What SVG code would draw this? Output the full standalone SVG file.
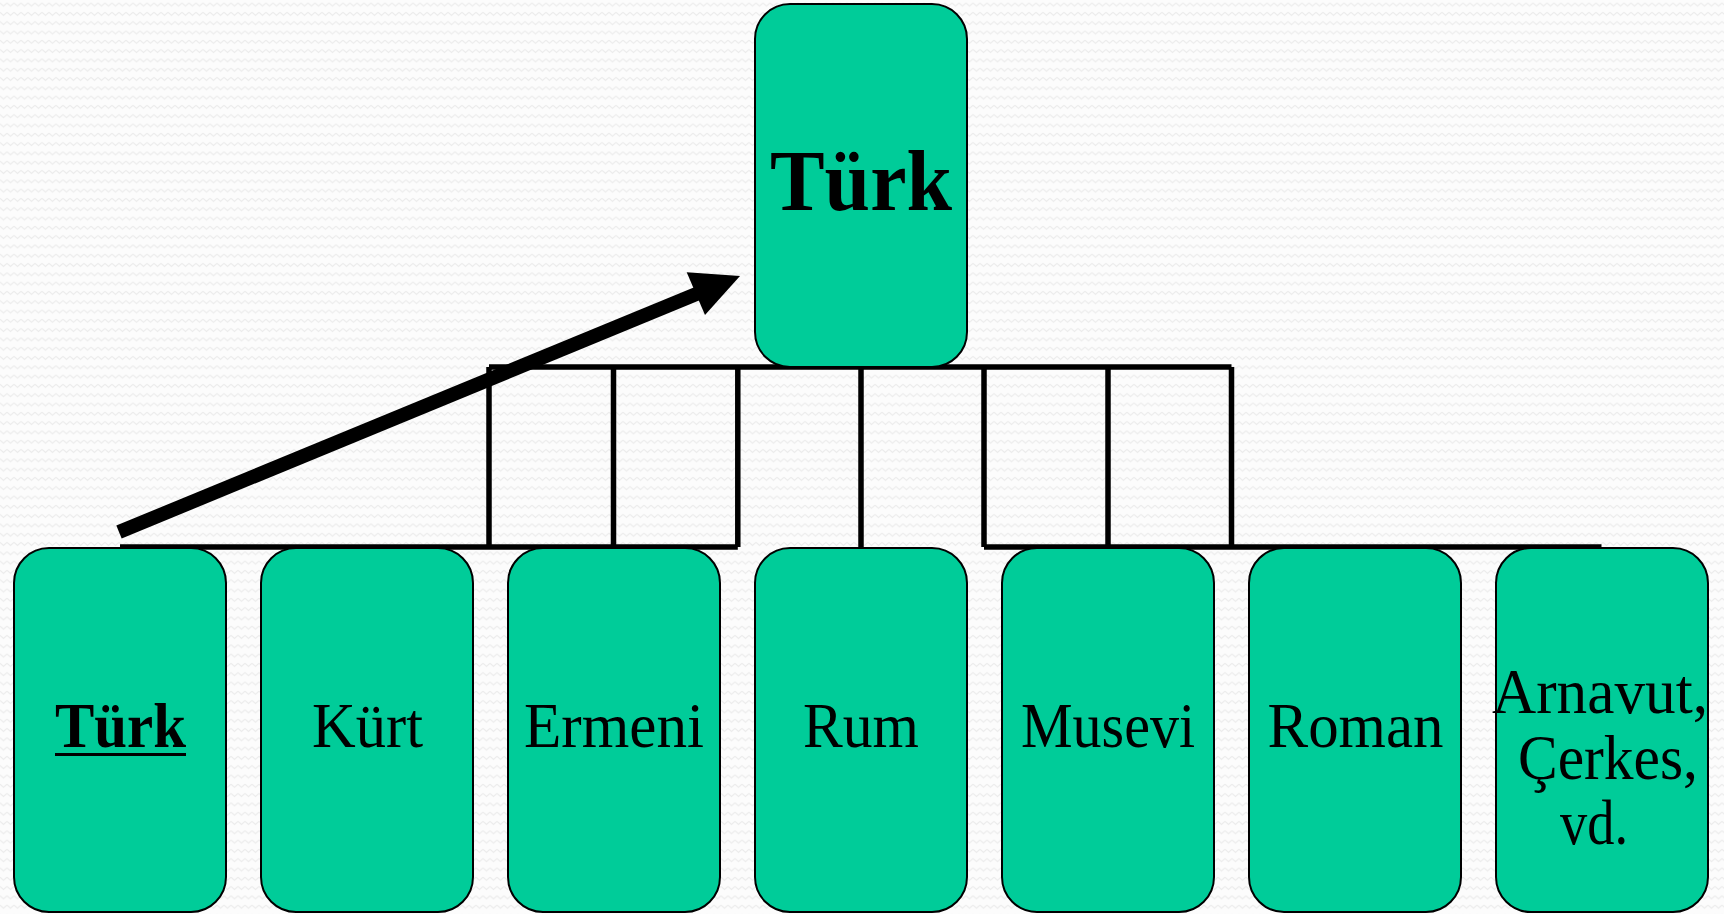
<svg xmlns="http://www.w3.org/2000/svg" width="1724" height="914" viewBox="0 0 1724 914">
<style>
.box{fill:#00cc99;stroke:#000;stroke-width:2}
.t{font-family:"Liberation Serif","Times New Roman",serif;font-size:63px;fill:#000;text-anchor:middle}
.b{font-weight:bold}
.big{font-size:86px}
.conn{fill:none;stroke:#000;stroke-width:5.5}
</style>
<defs>
<pattern id="bg" width="7" height="9.3" patternUnits="userSpaceOnUse">
<rect width="7" height="9.3" fill="#fcfcfc"/>
<path d="M0,3 L3.5,6 L7,3" fill="none" stroke="#ececec" stroke-width="1.2"/>
</pattern>
</defs>
<rect width="1724" height="914" fill="url(#bg)"/>
<g id="connectors">
<path class="conn" d="M489,367 H1231.5 M489,367 V547 M613.5,367 V547 M737.8,367 V547 M861,367 V547 M984,367 V547 M1108,367 V547 M1231.5,367 V547 M120,547 H737.8 M984,547 H1601.5"/>
<line x1="119" y1="532" x2="700" y2="292.5" stroke="#000" stroke-width="14"/>
<polygon points="740,276 686.7,272.3 705,315" fill="#000"/>
</g>
<g id="node-top">
<rect class="box" x="755" y="4" width="212" height="363" rx="35"/>
<text class="t b big" x="861" y="210" textLength="182" lengthAdjust="spacingAndGlyphs">Türk</text>
</g>
<g id="node-turk">
<rect class="box" x="14" y="548" width="212" height="364" rx="35"/>
<text class="t b" x="120.5" y="747" textLength="131" lengthAdjust="spacingAndGlyphs">Türk</text>
<rect x="55" y="753" width="131" height="3" fill="#000"/>
</g>
<g id="node-kurt">
<rect class="box" x="261" y="548" width="212" height="364" rx="35"/>
<text class="t" x="367.5" y="747" textLength="111" lengthAdjust="spacingAndGlyphs">Kürt</text>
</g>
<g id="node-ermeni">
<rect class="box" x="508" y="548" width="212" height="364" rx="35"/>
<text class="t" x="614" y="747" textLength="180" lengthAdjust="spacingAndGlyphs">Ermeni</text>
</g>
<g id="node-rum">
<rect class="box" x="755" y="548" width="212" height="364" rx="35"/>
<text class="t" x="861" y="747" textLength="116" lengthAdjust="spacingAndGlyphs">Rum</text>
</g>
<g id="node-musevi">
<rect class="box" x="1002" y="548" width="212" height="364" rx="35"/>
<text class="t" x="1108" y="747" textLength="174" lengthAdjust="spacingAndGlyphs">Musevi</text>
</g>
<g id="node-roman">
<rect class="box" x="1249" y="548" width="212" height="364" rx="35"/>
<text class="t" x="1355.5" y="747" textLength="176" lengthAdjust="spacingAndGlyphs">Roman</text>
</g>
<g id="node-arnavut">
<rect class="box" x="1496" y="548" width="212" height="364" rx="35"/>
<text class="t" x="1600" y="713" textLength="216" lengthAdjust="spacingAndGlyphs">Arnavut,</text>
<text class="t" x="1608" y="779" textLength="180" lengthAdjust="spacingAndGlyphs">Çerkes,</text>
<text class="t" x="1594" y="844" textLength="68" lengthAdjust="spacingAndGlyphs">vd.</text>
</g>
</svg>
